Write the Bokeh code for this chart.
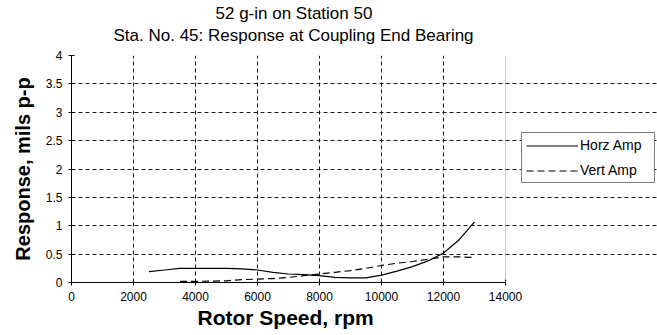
from bokeh.plotting import figure
from bokeh.models import (Range1d, FixedTicker, Legend, LegendItem, Title, Grid)
from bokeh.embed import file_html
from bokeh.resources import INLINE

title_line1 = "52 g-in on Station 50"
title_line2 = "Sta. No. 45: Response at Coupling End Bearing"
x_label = "Rotor Speed, rpm"
y_label = "Response, mils p-p"

horz_rpm = [2500, 3000, 3500, 4000, 5000, 5500, 6000, 6500, 7000, 7500, 8000,
            8500, 9000, 9500, 10000, 10500, 11000, 11500, 12000, 12500, 13000]
horz_amp = [0.19, 0.22, 0.25, 0.25, 0.25, 0.24, 0.22, 0.18, 0.15, 0.14, 0.12,
            0.09, 0.08, 0.08, 0.13, 0.20, 0.28, 0.38, 0.52, 0.75, 1.07]

vert_rpm = [3500, 4000, 5000, 5500, 6000, 6500, 7000, 7500, 8000, 8500, 9000,
            9500, 10000, 10500, 11000, 11500, 12000, 12500, 13000]
vert_amp = [0.02, 0.02, 0.03, 0.05, 0.06, 0.07, 0.09, 0.12, 0.15, 0.18, 0.21,
            0.25, 0.30, 0.34, 0.37, 0.41, 0.45, 0.45, 0.44]

x_ticks = [0, 2000, 4000, 6000, 8000, 10000, 12000, 14000]
y_ticks = [0, 0.5, 1, 1.5, 2, 2.5, 3, 3.5, 4]
y_tick_labels = ["0", "0.5", "1", "1.5", "2", "2.5", "3", "3.5", "4"]
series_names = ["Horz Amp", "Vert Amp"]

FONT = "Liberation Sans"

# layout: plot area 71..505 px wide for 0..14000; the frame is extended to the
# right edge so the legend can sit there without being clipped
X0, X1 = x_ticks[0], x_ticks[-1]
Y0, Y1 = y_ticks[0], y_ticks[-1]
FRAME_LEFT, AREA_RIGHT, FRAME_RIGHT = 71, 505, 657
x_end = X1 * (FRAME_RIGHT - FRAME_LEFT) / (AREA_RIGHT - FRAME_LEFT)

p = figure(width=657, height=335, output_backend="svg", toolbar_location=None,
           x_range=Range1d(X0, x_end), y_range=Range1d(Y0, Y1),
           min_border_left=FRAME_LEFT, min_border_right=0, min_border_top=55,
           min_border_bottom=53)
p.background_fill_color = "white"
p.border_fill_color = "white"
p.outline_line_color = None

# Titles (two lines): p.title is the outermost, added titles sit nearer the frame
p.title.text = title_line1
p.title.text_font = FONT
p.title.text_font_size = "17px"
p.title.text_font_style = "normal"
p.title.text_color = "black"
p.title.align = "left"
p.title.offset = 215 - FRAME_LEFT
p.title.standoff = -21
p.add_layout(Title(text=title_line2, text_font=FONT, text_font_size="17px",
                   text_font_style="normal", text_color="black",
                   align="left", offset=113 - FRAME_LEFT, standoff=22), "above")

# Axes
for ax in (p.xaxis[0], p.yaxis[0]):
    ax.axis_line_color = "black"
    ax.axis_line_width = 1
    ax.major_tick_line_color = "black"
    ax.major_tick_in = 3
    ax.major_tick_out = 3
    ax.minor_tick_line_color = None
    ax.major_label_text_font = FONT
    ax.major_label_text_font_size = "12px"
    ax.major_label_text_color = "black"
    ax.axis_label_text_font = FONT
    ax.axis_label_text_font_style = "bold"
    ax.axis_label_text_color = "black"
    ax.axis_label_text_font_size = "20px"

p.xaxis.ticker = FixedTicker(ticks=x_ticks)
p.xaxis.bounds = (X0, X1)
p.yaxis.ticker = FixedTicker(ticks=y_ticks)
p.yaxis.major_label_overrides = {t: l for t, l in zip(y_ticks, y_tick_labels)}
p.yaxis.axis_label = y_label
p.yaxis.axis_label_standoff = 9
p.xaxis.major_label_standoff = 6
p.yaxis.major_label_standoff = 6

# x-axis title under the plot area
p.add_layout(Title(text=x_label, text_font=FONT, text_font_size="21px",
                   text_font_style="bold", text_color="black", align="left",
                   offset=197 - FRAME_LEFT, standoff=0), "below")

# Grid (inner lines only)
p.xgrid.ticker = FixedTicker(ticks=x_ticks[1:-1])
p.ygrid.ticker = FixedTicker(ticks=y_ticks[1:-1])
p.xgrid.bounds = (Y0, Y1)
p.ygrid.bounds = (X0, X1)
for g in (p.xgrid[0], p.ygrid[0]):
    g.grid_line_color = "black"
    g.grid_line_dash = "4 3"
    g.grid_line_width = 1
    g.grid_line_alpha = 0.9

# plot-area border (top and right), grey dotted
p.add_layout(Grid(dimension=0, ticker=FixedTicker(ticks=[X1]), bounds=(Y0, Y1),
                  grid_line_color="#999999", grid_line_dash="1 1"))
p.add_layout(Grid(dimension=1, ticker=FixedTicker(ticks=[Y1]), bounds=(X0, X1),
                  grid_line_color="#999999", grid_line_dash="1 1"))

r_h = p.line(horz_rpm, horz_amp, line_color="black", line_width=1.2)
r_v = p.line(vert_rpm, vert_amp, line_color="black", line_width=1.2, line_dash="7 4")

legend = Legend(items=[LegendItem(label=series_names[0], renderers=[r_h]),
                       LegendItem(label=series_names[1], renderers=[r_v])],
                location=(450, 99), orientation="vertical",
                border_line_color="black", border_line_width=1,
                background_fill_color="white", background_fill_alpha=1,
                label_text_font=FONT, label_text_font_size="14px",
                label_text_color="black",
                glyph_width=52, glyph_height=15, label_standoff=2,
                spacing=9, padding=4, margin=0, label_height=15, label_width=70)
p.add_layout(legend)

open("out.html", "w").write(file_html(p, INLINE))
